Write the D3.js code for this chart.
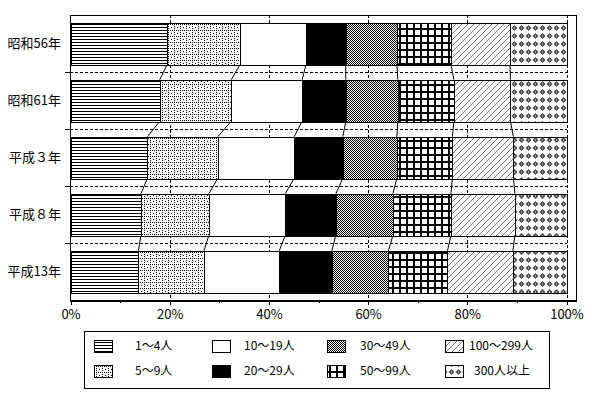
<!DOCTYPE html>
<html>
<head>
<meta charset="utf-8">
<script src="https://cdn.jsdelivr.net/npm/d3@7"></script>
<style>
  html, body { margin: 0; padding: 0; background: #fff; }
  svg { display: block; }
  text { font-family: "Noto Sans CJK JP", "Noto Sans", sans-serif; fill: #000; }
</style>
</head>
<body>
<svg id="chart" width="595" height="397"></svg>
<script>
const years = ['昭和56年', '昭和61年', '平成３年', '平成８年', '平成13年'];
const sizeClasses = ['1～4人', '5～9人', '10～19人', '20～29人', '30～49人', '50～99人', '100～299人', '300人以上'];

// share (%) of each size class, per year
const shareS56 = [19.5, 14.7, 13.3, 8.0, 10.3, 10.9, 11.9, 11.4];
const shareS61 = [18.0, 14.4, 14.3, 8.8, 10.5, 11.3, 11.4, 11.3];
const shareH3 = [15.5, 14.2, 15.4, 9.8, 10.9, 11.2, 12.3, 10.7];
const shareH8 = [14.2, 13.7, 15.4, 10.2, 11.5, 11.7, 12.9, 10.4];
const shareH13 = [13.7, 13.2, 15.2, 10.6, 11.4, 11.9, 13.2, 10.8];

const xTicks = [0, 20, 40, 60, 80, 100];
const xMinorTicks = [10, 30, 50, 70, 90];

const PLOT = { left: 70, top: 15, right: 576, bottom: 300 };
const X_END = 566.5;

const svg = d3.select('#chart');
const defs = svg.append('defs');

// ---- fill patterns (black & white, like the original) ----
function pattern(id, w, h) {
  return defs.append('pattern')
    .attr('id', id)
    .attr('patternUnits', 'userSpaceOnUse')
    .attr('width', w)
    .attr('height', h);
}

const pHoriz = pattern('p0', 4, 3);
pHoriz.append('rect').attr('width', 4).attr('height', 3).attr('fill', '#fff');
pHoriz.append('rect').attr('y', 0).attr('width', 4).attr('height', 1).attr('fill', '#000');

const pDots = pattern('p1', 6, 6);
pDots.append('rect').attr('width', 6).attr('height', 6).attr('fill', '#fff');
[[0, 0], [0, 2], [0, 4], [2, 0], [4, 0], [3, 3]].forEach(([x, y]) => {
  pDots.append('rect').attr('x', x).attr('y', y).attr('width', 1).attr('height', 1).attr('fill', '#000');
});

const pChecker = pattern('p4', 2, 2);
pChecker.append('rect').attr('width', 2).attr('height', 2).attr('fill', '#fff');
pChecker.append('rect').attr('width', 1).attr('height', 1).attr('fill', '#000');
pChecker.append('rect').attr('x', 1).attr('y', 1).attr('width', 1).attr('height', 1).attr('fill', '#000');

const pGrid = pattern('p5', 7, 7);
pGrid.append('rect').attr('width', 7).attr('height', 7).attr('fill', '#000');
pGrid.append('rect').attr('x', 2).attr('y', 2).attr('width', 5).attr('height', 5).attr('fill', '#fff');

const pDiag = pattern('p6', 6, 6);
pDiag.append('rect').attr('width', 6).attr('height', 6).attr('fill', '#fff');
pDiag.append('path').attr('d', 'M0,6 L6,0 M-1,1 L1,-1 M5,7 L7,5')
  .attr('stroke', '#555').attr('stroke-width', 0.8);

const pDiamond = pattern('p7', 7, 8);
pDiamond.append('rect').attr('width', 7).attr('height', 8).attr('fill', '#fff');
pDiamond.append('path').attr('d', 'M3.5,1 L6.5,4 L3.5,7 L0.5,4 Z').attr('fill', '#4a4a4a');
pDiamond.append('rect').attr('x', 3).attr('y', 3.5).attr('width', 1).attr('height', 1).attr('fill', '#fff');

const fills = ['url(#p0)', 'url(#p1)', '#fff', '#000', 'url(#p4)', 'url(#p5)', 'url(#p6)', 'url(#p7)'];

// ---- data ----
const rows = [shareS56, shareS61, shareH3, shareH8, shareH13].map((vals, i) => {
  let acc = 0;
  const segs = vals.map((v, k) => {
    const seg = { year: years[i], k, x0: acc, x1: acc + v };
    acc += v;
    return seg;
  });
  // normalise last edge to 100
  segs[segs.length - 1].x1 = 100;
  return { year: years[i], segs };
});

const x = d3.scaleLinear().domain([0, 100]).range([PLOT.left + 0.5, X_END]);
const y = d3.scaleBand().domain(years).range([PLOT.top, PLOT.bottom])
  .paddingInner(0.27).paddingOuter(0.135);

const bandEdges = years.slice(1).map(yr => y(yr) - y.step() * y.paddingInner() / 2);

// ---- plot background & gridlines ----
svg.append('rect')
  .attr('x', PLOT.left).attr('y', PLOT.top)
  .attr('width', PLOT.right - PLOT.left).attr('height', PLOT.bottom - PLOT.top)
  .attr('fill', '#fff');

const grid = svg.append('g').attr('stroke', '#000').attr('stroke-width', 1)
  .attr('stroke-dasharray', '3,2').attr('shape-rendering', 'crispEdges');

grid.selectAll('line.v').data(xTicks.slice(1)).join('line')
  .attr('class', 'v')
  .attr('x1', d => Math.round(x(d)) + 0.5).attr('x2', d => Math.round(x(d)) + 0.5)
  .attr('y1', PLOT.top).attr('y2', PLOT.bottom);

grid.selectAll('line.h').data(bandEdges).join('line')
  .attr('class', 'h')
  .attr('x1', PLOT.left).attr('x2', X_END)
  .attr('y1', d => Math.round(d) + 0.5).attr('y2', d => Math.round(d) + 0.5);

// ---- series lines joining the bars ----
const links = [];
for (let i = 0; i < rows.length - 1; i++) {
  for (let k = 0; k < sizeClasses.length - 1; k++) {
    links.push({ a: rows[i].segs[k].x1, b: rows[i + 1].segs[k].x1, ya: y(years[i]) + y.bandwidth(), yb: y(years[i + 1]) });
  }
}
svg.append('g').selectAll('line').data(links).join('line')
  .attr('x1', d => x(d.a)).attr('x2', d => x(d.b))
  .attr('y1', d => d.ya).attr('y2', d => d.yb)
  .attr('stroke', '#000').attr('stroke-width', 1);

// ---- stacked bars ----
svg.append('g').selectAll('g').data(rows).join('g')
  .selectAll('rect').data(d => d.segs).join('rect')
  .attr('x', d => Math.round(x(d.x0)) + 0.5)
  .attr('width', d => Math.round(x(d.x1)) - Math.round(x(d.x0)))
  .attr('y', d => Math.round(y(d.year)) + 0.5)
  .attr('height', Math.round(y.bandwidth()))
  .attr('fill', d => fills[d.k])
  .attr('stroke', '#000').attr('stroke-width', 1)
  .attr('shape-rendering', 'crispEdges');

// ---- axes ----
const xAxis = svg.append('g')
  .attr('transform', `translate(0,${PLOT.bottom})`)
  .call(d3.axisBottom(x).tickValues(xTicks).tickSize(5).tickPadding(5).tickFormat(d => d + '%'));
xAxis.select('.domain').remove();
xAxis.selectAll('text').attr('font-size', 13).attr('font-family', '"Noto Sans", sans-serif');

const xMinor = svg.append('g')
  .attr('transform', `translate(0,${PLOT.bottom})`)
  .call(d3.axisBottom(x).tickValues(xMinorTicks).tickSize(3).tickFormat(''));
xMinor.select('.domain').remove();

svg.selectAll('.tick line').attr('shape-rendering', 'crispEdges');

const yAxis = svg.append('g')
  .attr('transform', `translate(${PLOT.left},0)`)
  .call(d3.axisLeft(y).tickSize(0).tickPadding(9));
yAxis.select('.domain').remove();
yAxis.selectAll('text').attr('font-size', 13);

svg.append('g').selectAll('line').data(bandEdges).join('line')
  .attr('x1', PLOT.left - 5).attr('x2', PLOT.left)
  .attr('y1', d => Math.round(d) + 0.5).attr('y2', d => Math.round(d) + 0.5)
  .attr('stroke', '#000').attr('shape-rendering', 'crispEdges');

// frame: top & right thin, left axis thin, bottom axis heavier
const frame = svg.append('g').attr('stroke', '#000').attr('fill', 'none').attr('shape-rendering', 'crispEdges');
frame.append('path')
  .attr('d', `M${PLOT.left + 0.5},${PLOT.bottom} V${PLOT.top + 0.5} H${PLOT.right + 0.5} V${PLOT.bottom}`);
frame.append('line')
  .attr('x1', PLOT.left).attr('x2', PLOT.right + 1)
  .attr('y1', PLOT.bottom + 0.5).attr('y2', PLOT.bottom + 0.5)
  .attr('stroke-width', 2);

// ---- legend ----
const legend = svg.append('g');
legend.append('rect')
  .attr('x', 84.5).attr('y', 331.5).attr('width', 465).attr('height', 57)
  .attr('fill', '#fff').attr('stroke', '#000').attr('shape-rendering', 'crispEdges');

const colIcon = [94, 212, 327, 445];
const colText = [135, 244, 360, 469];
const rowTop = [340, 365];

const items = legend.selectAll('g.item').data(sizeClasses).join('g').attr('class', 'item');
items.append('rect')
  .attr('x', (d, i) => colIcon[Math.floor(i / 2)] + 0.5)
  .attr('y', (d, i) => rowTop[i % 2] + 0.5)
  .attr('width', 18).attr('height', 12)
  .attr('fill', (d, i) => fills[i])
  .attr('stroke', '#000').attr('shape-rendering', 'crispEdges');
items.append('text')
  .attr('x', (d, i) => colText[Math.floor(i / 2)] + (i === 7 ? 5 : 0))
  .attr('y', (d, i) => rowTop[i % 2] + 6)
  .attr('dy', '0.35em')
  .attr('font-size', 12)
  .text(d => d);
</script>
</body>
</html>
